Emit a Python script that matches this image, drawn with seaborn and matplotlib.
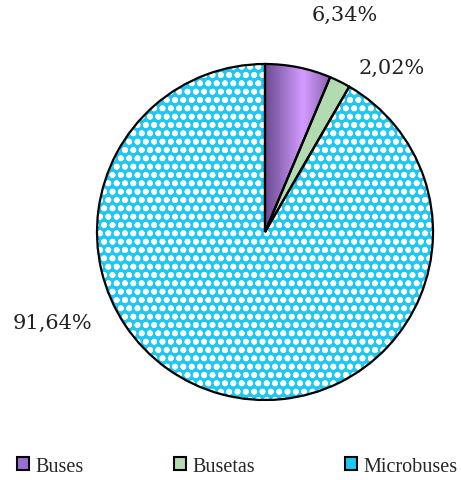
import numpy as np
import matplotlib
matplotlib.use("Agg")
import matplotlib.pyplot as plt
import seaborn as sns
from matplotlib.patches import Patch

# Datos
categorias = ["Buses", "Busetas", "Microbuses"]
porcentajes = [6.34, 2.02, 91.64]
colores = ["#9b6fd0", "#b2dbb2", "#1ec8f5"]

# Posicion de las etiquetas (en unidades del radio)
pos_etiquetas = [(0.476, 1.298), (0.756, 0.982), (-1.268, -0.536)]

sns.set_theme(style="white")
plt.rcParams['font.family'] = ['Liberation Serif', 'DejaVu Serif']
plt.rcParams['hatch.linewidth'] = 1.8

fig = plt.figure(figsize=(4.61, 4.81), dpi=100)
ax = fig.add_axes([97 / 461, 80 / 481, 336 / 461, 336 / 481])

# Capa de relleno (el patron de burbujas en blanco sobre cian)
wedges, _ = ax.pie(porcentajes, colors=colores, startangle=90, counterclock=False,
                   wedgeprops=dict(linewidth=0))
wedges[2].set_hatch("oo")
wedges[2].set_edgecolor("white")
wedges[2].set_linewidth(0)

# Degradado para Buses
grad = np.abs(np.linspace(-1, 1, 256))[None, :]
cmap = matplotlib.colors.LinearSegmentedColormap.from_list("bus", ["#d39cff", "#6b4a92"])
img = ax.imshow(grad, extent=(0, 0.45, 0, 1.0), cmap=cmap, zorder=2, aspect="auto")
img.set_clip_path(wedges[0])

# Bordes negros
ax.pie(porcentajes, colors=["none"] * 3, startangle=90, counterclock=False,
       wedgeprops=dict(linewidth=1.6, edgecolor="black", zorder=3))

ax.set_xlim(-1.0, 1.0)
ax.set_ylim(-1.0, 1.0)
ax.set_aspect("equal")
ax.axis("off")

for v, (x, y) in zip(porcentajes, pos_etiquetas):
    ax.text(x, y, f"{v:.2f}".replace(".", ",") + "%", ha="center", va="center",
            fontsize=15, family="DejaVu Serif", color="#222222")

handles = [Patch(facecolor=c, edgecolor="black", linewidth=1.5) for c in colores]
fig.legend(handles, categorias, loc="lower left", bbox_to_anchor=(0.02, -0.008, 0.99, 0.06),
           mode="expand", ncol=3, frameon=False, fontsize=14.5, handlelength=0.6,
           handleheight=0.6, handletextpad=0.3, borderaxespad=0.0)

fig.savefig("out.png", dpi=100)
